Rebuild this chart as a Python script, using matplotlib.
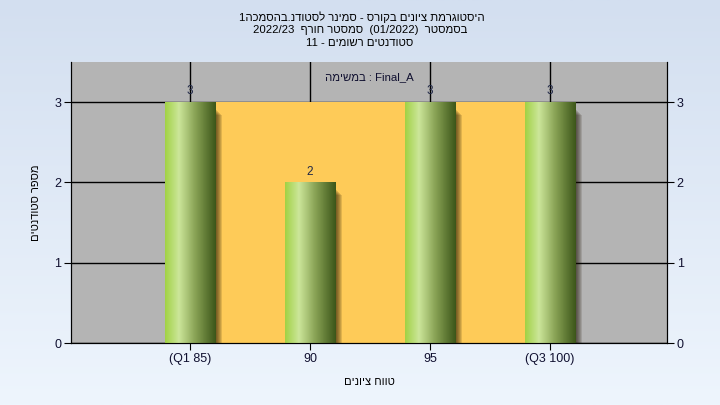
import matplotlib.pyplot as plt
import numpy as np
from matplotlib.colors import LinearSegmentedColormap
from matplotlib.patches import Rectangle

plt.rcParams["font.family"] = ["Liberation Sans", "DejaVu Sans"]

# data
grade_labels = ["(Q1 85)", "90", "95", "(Q3 100)"]
counts = [3, 2, 3, 3]
q1_idx, q3_idx = 0, 3
iqr_height = 3

# hebrew texts (logical order), flipped for LTR drawing below
title1 = "היסטוגרמת ציונים בקורס - סמינר לסטודנ.בהסמכה"
sem_word = "בסמסטר"
sem_name = "סמסטר חורף"
students = "סטודנטים רשומים"
task_word = "במשימה"
ylab = "מספר סטודנטים"
xlab = "טווח ציונים"


def rev(s):
    return s[::-1]


line1 = "1" + rev(title1)
line2 = "2022/23  " + rev(sem_name) + "  (01/2022)  " + rev(sem_word)
line3 = "11 - " + rev(students)

fig = plt.figure(figsize=(7.2, 4.05), dpi=100)

# background gradient
bg = fig.add_axes([0, 0, 1, 1], zorder=-5)
grad = np.linspace(0, 1, 256).reshape(-1, 1)
bg_cmap = LinearSegmentedColormap.from_list("bg", ["#d3dff0", "#eef5fd"])
bg.imshow(grad, aspect="auto", cmap=bg_cmap, extent=[0, 1, 0, 1], origin="upper")
bg.axis("off")

ax = fig.add_axes([71 / 720, 1 - 343 / 405, (667 - 71) / 720, (343 - 62) / 405])
ax.set_facecolor("#b4b4b4")
x = np.arange(len(counts))

ax.set_axisbelow(True)
ax.grid(True, color="black", lw=1)

ax.add_patch(Rectangle((q1_idx, 0), q3_idx - q1_idx, iqr_height,
                       facecolor="#fecb58", edgecolor="none", zorder=1))

bar_cmap = LinearSegmentedColormap.from_list(
    "bar", [(0, "#a2d246"), (0.27, "#cce69a"), (0.6, "#88a254"), (1, "#3d571a")])
w = 50 / 120
px_x = 1 / 120
px_y = 3.5 / 281
hgrad = np.linspace(0, 1, 64).reshape(1, -1)
for xi, c in zip(x, counts):
    # soft shadow
    for k in range(7):
        ax.add_patch(Rectangle((xi - w / 2 + (k + 1) * px_x, -0.05), w, c - 3 * px_y - k * px_y,
                               facecolor="#1a1000", edgecolor="none", alpha=0.13, zorder=2))
    ax.imshow(hgrad, cmap=bar_cmap, aspect="auto", zorder=3,
              extent=[xi - w / 2, xi + w / 2, 0, c])
    ax.text(xi, c + 0.06, str(c), ha="center", va="bottom", fontsize=8.5,
            color="#202848", zorder=4)

ax.set_xlim(-0.99, 3.975)
ax.set_ylim(0, 3.5)
ax.set_xticks(x)
ax.set_xticklabels(grade_labels)
ax.set_yticks([0, 1, 2, 3])
ax.spines["top"].set_visible(False)
ax.tick_params(colors="black", labelcolor="#101030", labelsize=9, length=5, pad=2)

ax2 = ax.twinx()
ax2.set_ylim(0, 3.5)
ax2.set_yticks([0, 1, 2, 3])
ax2.spines["top"].set_visible(False)
ax2.tick_params(colors="black", labelcolor="#101030", labelsize=9, length=5, pad=2)

ax.text(0.5, 0.965, rev(task_word) + " : Final_A", transform=ax.transAxes,
        ha="center", va="top", fontsize=8.2, color="#101030")

ax.set_xlabel(rev(xlab), fontsize=8, labelpad=9)
ax.set_ylabel(rev(ylab), fontsize=8, labelpad=9.5)

fig.text(0.503, 1 - 17 / 405, line1, ha="center", va="center", fontsize=8.2)
fig.text(0.5, 1 - 30 / 405, line2, ha="center", va="center", fontsize=8.2)
fig.text(0.5, 1 - 43 / 405, line3, ha="center", va="center", fontsize=8.2)

fig.savefig("out.png", dpi=100)
